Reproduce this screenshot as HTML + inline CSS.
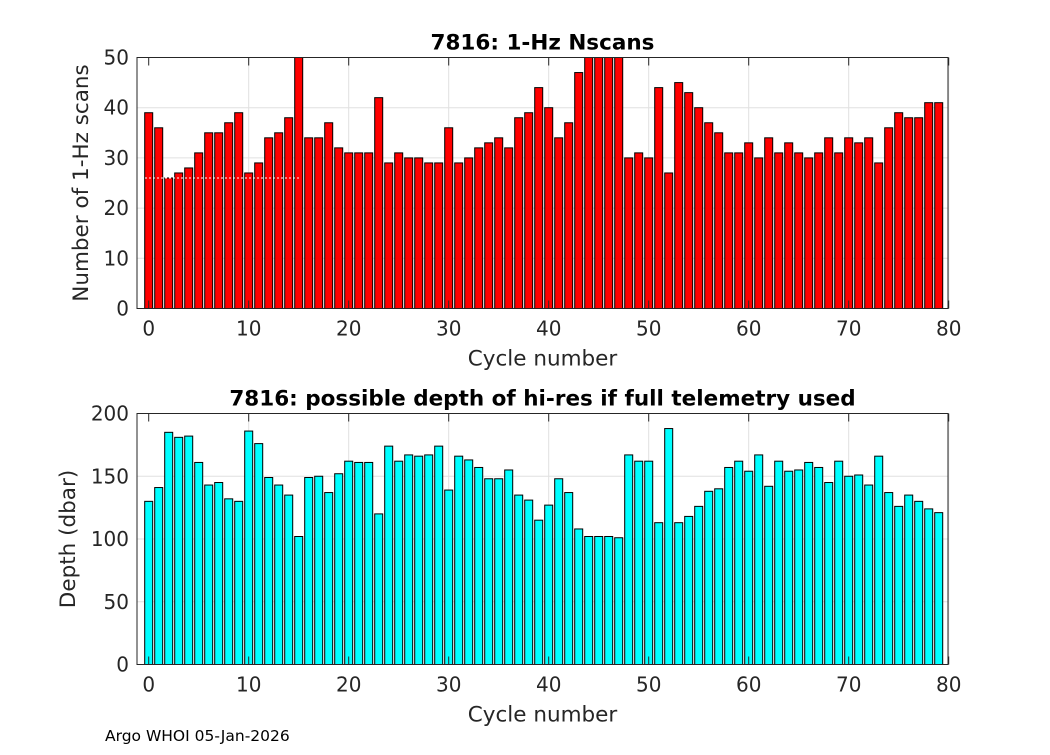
<!DOCTYPE html>
<html><head><meta charset="utf-8"><style>
body{margin:0;background:#fff;width:1050px;height:750px;overflow:hidden;font-family:"Liberation Sans","DejaVu Sans",sans-serif}
</style></head><body>
<svg id="s" width="1050" height="750" xmlns="http://www.w3.org/2000/svg" font-family="DejaVu Sans, Liberation Sans, sans-serif">
<text x="105" y="741" font-size="15.5" fill="#000">Argo WHOI 05-Jan-2026</text>
</svg>
<script>
const cycles = Array.from({length:80},(_,i)=>i);
const nscans = [39,36,26,27,28,31,35,35,37,39,27,29,34,35,38,50,34,34,37,32,31,31,31,42,29,31,30,30,29,29,36,29,30,32,33,34,32,38,39,44,40,34,37,47,50,50,50,50,30,31,30,44,27,45,43,40,37,35,31,31,33,30,34,31,33,31,30,31,34,31,34,33,34,29,36,39,38,38,41,41];
const depth = [130,141,185,181,182,161,143,145,132,130,186,176,149,143,135,102,149,150,137,152,162,161,161,120,174,162,167,166,167,174,139,166,163,157,148,148,155,135,131,115,127,148,137,108,102,102,102,101,167,162,162,113,188,113,118,126,138,140,157,162,154,167,142,162,154,155,161,157,145,162,150,151,143,166,137,126,135,130,124,121];
const xTicks = [0,10,20,30,40,50,60,70,80];
const yTicksTop = [0,10,20,30,40,50];
const yTicksBot = [0,50,100,150,200];
const NS="http://www.w3.org/2000/svg";
const svg=document.getElementById('s');
function mk(t,a,p){const e=document.createElementNS(NS,t);for(const k in a)e.setAttribute(k,a[k]);(p||svg).appendChild(e);return e;}
function panel(o){
  const g=mk('g',{});
  
  
  const L=137,R=948,T=o.top,B=o.bottom;
  const xs=v=>148.7+(v)*10;
  const ys=v=>B-(v/o.ymax)*(B-T);
  mk('rect',{x:L,y:T,width:R-L,height:B-T,fill:'#fff'},g);
  for(const t of xTicks){if(t===0)continue;mk('line',{x1:xs(t),x2:xs(t),y1:T,y2:B,stroke:'#e0e0e0','stroke-width':1},g);}
  for(const t of o.yt){mk('line',{x1:L,x2:R,y1:ys(t),y2:ys(t),stroke:'#e0e0e0','stroke-width':1},g);}
  o.data.forEach((v,i)=>{
    const r=mk('rect',{x:xs(cycles[i])-4,y:ys(v),width:8,height:ys(0)-ys(v),fill:o.color,stroke:'#000','stroke-width':1},g);
    
    
  });
  if(o.dash!==undefined) mk('line',{x1:L,x2:300,y1:ys(o.dash),y2:ys(o.dash),stroke:'#fff','stroke-width':1,'stroke-dasharray':'2,2'},g);
  mk('rect',{x:L,y:T,width:R-L,height:B-T,fill:'none',stroke:'#262626','stroke-width':1},g);
  for(const t of xTicks){
    mk('line',{x1:xs(t),x2:xs(t),y1:B,y2:B-8,stroke:'#262626'},g);
    mk('line',{x1:xs(t),x2:xs(t),y1:T,y2:T+8,stroke:'#262626'},g);
    const tx=mk('text',{x:xs(t),y:B+27,'font-size':20,'text-anchor':'middle',fill:'#262626'},g);tx.textContent=t;
    
    
  }
  for(const t of o.yt){
    const ty=mk('text',{x:L-8,y:ys(t)+7,'font-size':20,'text-anchor':'end',fill:'#262626'},g);ty.textContent=t;
    
    
  }
  const ti=mk('text',{x:(L+R)/2,y:T-8,'font-size':21.5,'font-weight':'bold','text-anchor':'middle',fill:'#000'},g);ti.textContent=o.title;
  
  
  const xl=mk('text',{x:(L+R)/2,y:B+57,'font-size':21.5,'text-anchor':'middle',fill:'#262626'},g);xl.textContent='Cycle number';
  
  
  const yl=mk('text',{x:0,y:0,'font-size':21.5,'text-anchor':'middle',fill:'#262626',transform:`translate(${o.ylx},${(T+B)/2}) rotate(-90)`},g);yl.textContent=o.ylabel;
  
  
}
panel({name:'nscans-chart',top:57.5,bottom:308.5,ymax:50,yt:yTicksTop,data:nscans,color:'#ff0000',title:'7816: 1-Hz Nscans',ylabel:'Number of 1-Hz scans',ylx:88,dash:26});
panel({name:'depth-chart',top:413.5,bottom:664.5,ymax:200,yt:yTicksBot,data:depth,color:'#00ffff',title:'7816: possible depth of hi-res if full telemetry used',ylabel:'Depth (dbar)',ylx:75});
</script>
</body></html>
